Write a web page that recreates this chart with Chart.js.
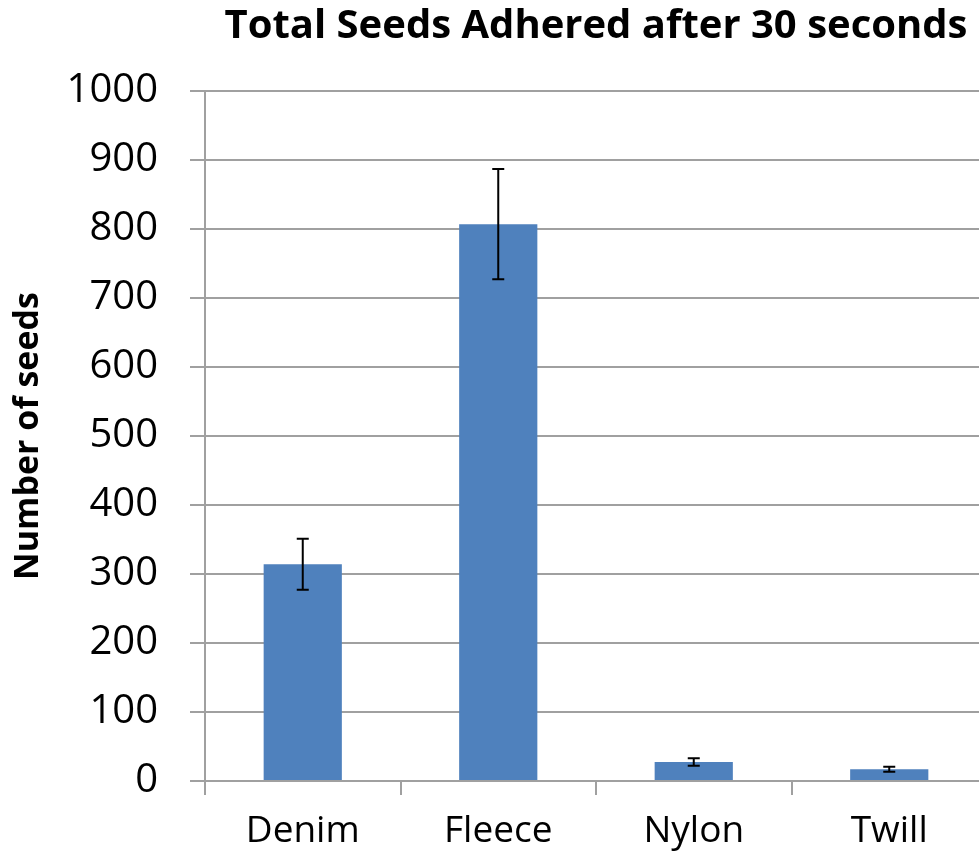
<!DOCTYPE html>
<html>
<head>
<meta charset="utf-8">
<script src="https://cdn.jsdelivr.net/npm/chart.js@4.4.0/dist/chart.umd.min.js"></script>
<style>
	html, body { margin: 0; padding: 0; background: #fff; overflow: hidden; }
	.wrap { width: 979px; height: 857px; overflow: hidden; }
</style>
</head>
<body>
<div class="wrap"><canvas id="c" width="987" height="857"></canvas></div>
<script>
// values
const categories = ["Denim", "Fleece", "Nylon", "Twill"];
const seeds = [314, 807, 27.5, 17];
const seedErrors = [37, 80, 5.3, 3.5];
const yTicks = [0, 100, 200, 300, 400, 500, 600, 700, 800, 900, 1000];

const fontFamily = "'Open Sans', 'Noto Sans', sans-serif";
const gridColor = "#a0a0a0";

// draw +/- error bars on top of each bar
const errorBars = {
	id: "errorBars",
	afterDatasetsDraw(chart) {
		const ctx = chart.ctx;
		const y = chart.scales.y;
		const meta = chart.getDatasetMeta(0);
		ctx.save();
		ctx.strokeStyle = "#000";
		ctx.lineWidth = 2;
		meta.data.forEach((bar, i) => {
			const x = bar.x;
			const top = y.getPixelForValue(seeds[i] + seedErrors[i]);
			const bottom = y.getPixelForValue(seeds[i] - seedErrors[i]);
			ctx.beginPath();
			ctx.moveTo(x, top);
			ctx.lineTo(x, bottom);
			ctx.moveTo(x - 6, top);
			ctx.lineTo(x + 6, top);
			ctx.moveTo(x - 6, bottom);
			ctx.lineTo(x + 6, bottom);
			ctx.stroke();
		});
		ctx.restore();
	}
};

new Chart(document.getElementById("c"), {
	type: "bar",
	data: {
		labels: categories,
		datasets: [{
			data: seeds,
			backgroundColor: "#4f81bd",
			barPercentage: 0.4,
			categoryPercentage: 1
		}]
	},
	options: {
		responsive: false,
		animation: false,
		devicePixelRatio: 1,
		layout: { padding: 0 },
		plugins: {
			legend: { display: false },
			tooltip: { enabled: false },
			title: {
				display: true,
				fullSize: false,
				text: "Total Seeds Adhered after 30 seconds",
				color: "#000",
				font: { family: fontFamily, size: 40, weight: "bold" },
				padding: { top: 3, bottom: 40 }
			}
		},
		scales: {
			x: {
				grid: {
					display: true,
					drawOnChartArea: false,
					color: gridColor,
					lineWidth: 2,
					tickLength: 14
				},
				border: { color: gridColor, width: 2 },
				ticks: {
					color: "#000",
					font: { family: fontFamily, size: 37 },
					padding: 14
				},
				afterFit(scale) { scale.height = 76; }
			},
			y: {
				min: 0,
				max: 1000,
				afterBuildTicks(scale) { scale.ticks = yTicks.map(v => ({ value: v })); },
				grid: {
					color: gridColor,
					lineWidth: 2,
					tickLength: 15
				},
				border: { color: gridColor, width: 2 },
				ticks: {
					color: "#000",
					font: { family: fontFamily, size: 40 },
					padding: 32,
					callback: v => String(v)
				},
				title: {
					display: true,
					text: "Number of seeds",
					color: "#000",
					font: { family: fontFamily, size: 34, weight: "bold" },
					padding: { top: 8, bottom: 0 }
				},
				afterFit(scale) { scale.width = 205; }
			}
		}
	},
	plugins: [errorBars]
});
</script>
</body>
</html>
